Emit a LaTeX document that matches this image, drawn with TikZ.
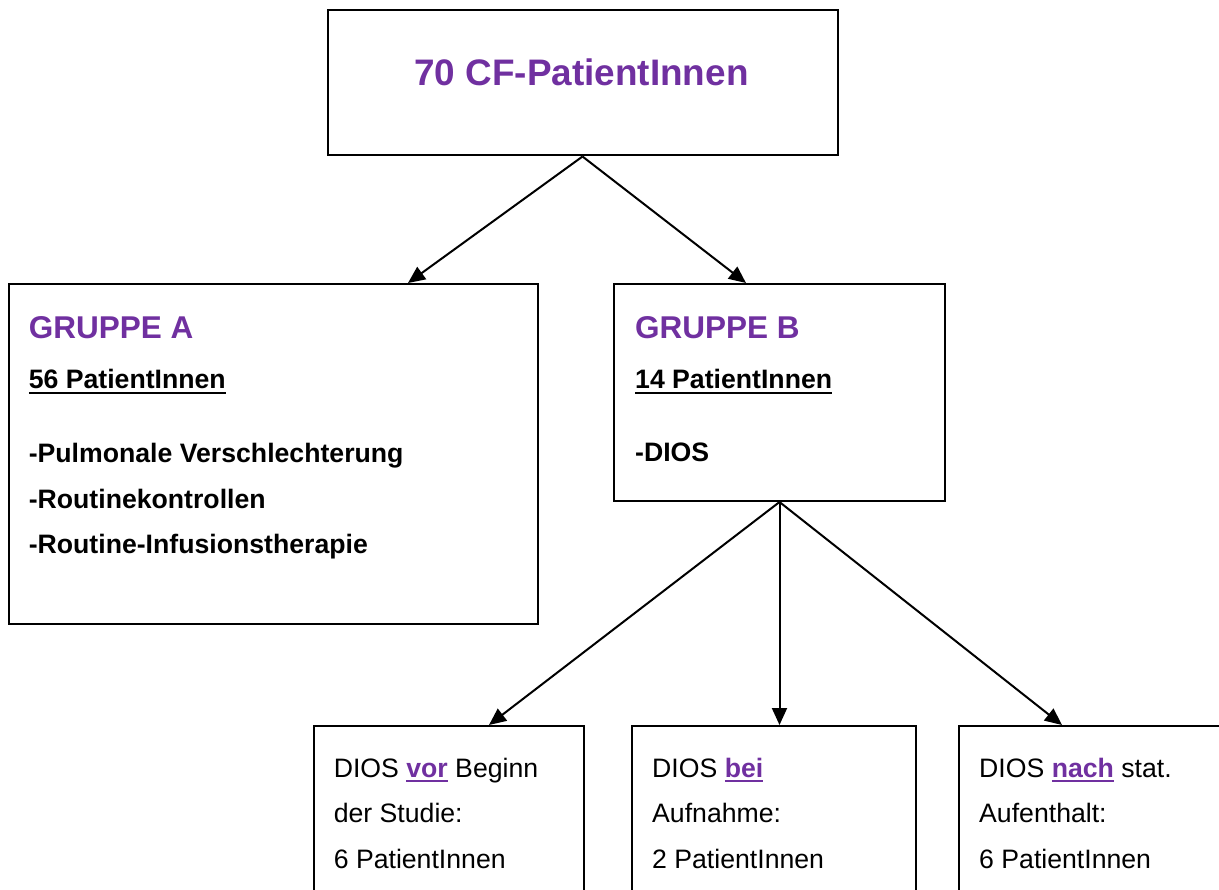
\documentclass[tikz,border=0pt]{standalone}
\usepackage{fontspec}
\setmainfont{Liberation Sans}
\usepackage{tikz}
\usetikzlibrary{arrows.meta}
\definecolor{lila}{HTML}{7030A0}
\newcommand{\ul}[1]{\setbox0\hbox{#1}\rlap{\rule[-5pt]{\wd0}{2.2pt}}\box0}
\newcommand{\hl}[1]{\textcolor{lila}{\ul{\textbf{#1}}}}

\begin{document}
\begin{tikzpicture}[x=1pt,y=-1pt,
  box/.style={draw=black,line width=2pt,anchor=north west,inner sep=0pt},
  txt/.style={anchor=base west,inner sep=0pt,font=\fontsize{26.65}{32}\selectfont},
  head/.style={anchor=base west,inner sep=0pt,text=lila,font=\fontsize{31.5}{36}\selectfont\bfseries},
  arr/.style={line width=2pt,-{Triangle[length=17pt,width=15pt]}}]
\useasboundingbox (0,0) rectangle (1219,890);
% boxes
\node [box,minimum width=510pt,minimum height=145pt] (top) at (326.5,9.5) {};
\node [box,minimum width=529pt,minimum height=340pt] (ga) at (8,283) {};
\node [box,minimum width=331pt,minimum height=217pt] (gb) at (613,283) {};
\node [box,minimum width=270pt,minimum height=200pt] (b1) at (313,725) {};
\node [box,minimum width=284pt,minimum height=200pt] (b2) at (631,725) {};
\node [box,minimum width=280pt,minimum height=200pt] (b3) at (958,725) {};
% title
\node [anchor=base,inner sep=0pt,text=lila,font=\fontsize{36.9}{42}\selectfont\bfseries] (t0) at (581.5,86) {70 CF-PatientInnen};
% gruppe a
\node [head] (a0) at (28.6,339) {GRUPPE A};
\node [txt] (a1) at (28.6,389) {\ul{\textbf{56 PatientInnen}}};
\node [txt] (a2) at (28.6,463) {\textbf{-Pulmonale Verschlechterung}};
\node [txt] (a3) at (28.6,508) {\textbf{-Routinekontrollen}};
\node [txt] (a4) at (28.6,554) {\textbf{-Routine-Infusionstherapie}};
% gruppe b
\node [head] (g0) at (635,339) {GRUPPE B};
\node [txt] (g1) at (635,389) {\ul{\textbf{14 PatientInnen}}};
\node [txt] (g2) at (635,462) {\textbf{-DIOS}};
% dios
\node [txt] (c1) at (333.6,777) {DIOS \hl{vor} Beginn};
\node [txt] (c2) at (333.6,822.7) {der Studie:};
\node [txt] (c3) at (333.6,868) {6 PatientInnen};
\node [txt] (d1) at (652,777) {DIOS \hl{bei}};
\node [txt] (d2) at (652,822.7) {Aufnahme:};
\node [txt] (d3) at (652,868) {2 PatientInnen};
\node [txt] (e1) at (979,777) {DIOS \hl{nach} stat.};
\node [txt] (e2) at (979,822.7) {Aufenthalt:};
\node [txt] (e3) at (979,868) {6 PatientInnen};
% arrows
\draw [arr] (top.south) -- ([xshift=400pt]ga.north west);
\draw [arr] (top.south) -- ([xshift=133pt]gb.north west);
\draw [arr] (gb.south) -- ([xshift=176pt]b1.north west);
\draw [arr] (gb.south) -- (gb.south |- b2.north);
\draw [arr] (gb.south) -- ([xshift=104pt]b3.north west);
\end{tikzpicture}
\end{document}
